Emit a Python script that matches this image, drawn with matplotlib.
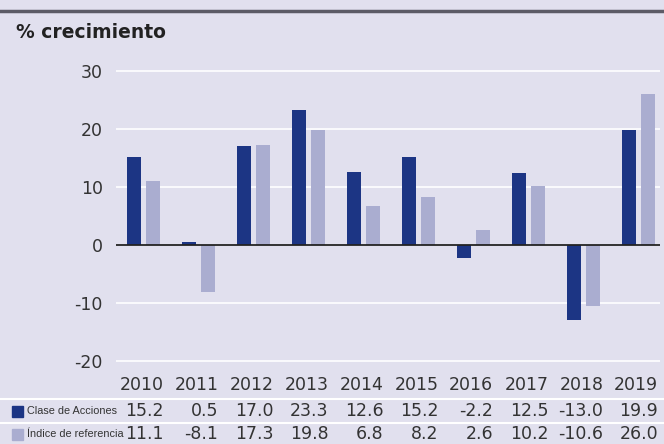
import matplotlib.pyplot as plt
import matplotlib.transforms as mtransforms
from matplotlib.lines import Line2D
from matplotlib.patches import Rectangle
import numpy as np

years = ["2010", "2011", "2012", "2013", "2014", "2015", "2016", "2017", "2018", "2019"]
clase = [15.2, 0.5, 17.0, 23.3, 12.6, 15.2, -2.2, 12.5, -13.0, 19.9]
indice = [11.1, -8.1, 17.3, 19.8, 6.8, 8.2, 2.6, 10.2, -10.6, 26.0]
series_names = ["Clase de Acciones", "Índice de referencia"]

bg = "#e1e0ee"
dark = "#1c3584"
light = "#aaadd0"
text_col = "#333333"

W, H = 664, 444
fig = plt.figure(figsize=(W / 100, H / 100), dpi=100, facecolor=bg)

# axes placed in pixel terms
left, right, top, bottom = 116, 660, 60, 372
ax = fig.add_axes([left / W, 1 - bottom / H, (right - left) / W, (bottom - top) / H])
ax.set_facecolor(bg)

x = np.arange(len(years))
bw = 14 / 55
gap = 5 / 55
ax.bar(x - (bw + gap) / 2, clase, bw, color=dark, zorder=3)
ax.bar(x + (bw + gap) / 2, indice, bw, color=light, zorder=3)

ax.set_xlim(-0.5, 9.39)
ax.set_ylim(-21.9, 31.9)
ax.set_yticks([-20, -10, 0, 10, 20, 30])
ax.set_yticklabels(["-20", "-10", "0", "10", "20", "30"])
ax.grid(axis="y", color="white", linewidth=1.2, zorder=0)
ax.axhline(0, color="#222222", linewidth=1.3, zorder=4)
ax.set_xticks([])
for s in ax.spines.values():
    s.set_visible(False)
ax.tick_params(axis="y", length=0, pad=9.5, labelsize=12.5, labelcolor=text_col)

# top rule and title
fig.add_artist(Line2D([0, 1], [1 - 11 / H, 1 - 11 / H], color="#5c5b66", linewidth=2.5))
fig.text(16 / W, 1 - 33 / H, "% crecimiento", fontsize=13.5, fontweight="bold",
         color="#222222", va="center", ha="left")

# data table under the chart
trans = mtransforms.blended_transform_factory(ax.transData, fig.transFigure)
row_y = [385, 411, 434]
for yy in [399, 423]:
    fig.add_artist(Line2D([0, 1], [1 - yy / H, 1 - yy / H], color="white", linewidth=1.5))

for i in range(len(years)):
    xr = x[i] + 0.36
    fig.text(xr, 1 - row_y[0] / H, years[i], transform=trans, ha="right", va="center",
             fontsize=12.5, color=text_col)
    fig.text(xr, 1 - row_y[1] / H, f"{clase[i]:.1f}", transform=trans, ha="right",
             va="center", fontsize=12.5, color=text_col)
    fig.text(xr, 1 - row_y[2] / H, f"{indice[i]:.1f}", transform=trans, ha="right",
             va="center", fontsize=12.5, color=text_col)

for name, col, yy in zip(series_names, [dark, light], row_y[1:]):
    fig.add_artist(Rectangle((12 / W, 1 - (yy + 6) / H), 11 / W, 11 / H,
                             transform=fig.transFigure, color=col))
    fig.text(27 / W, 1 - yy / H, name, fontsize=7.8, family="Liberation Sans",
             color=text_col, ha="left", va="center")

fig.savefig("out.png", dpi=100, facecolor=bg)
